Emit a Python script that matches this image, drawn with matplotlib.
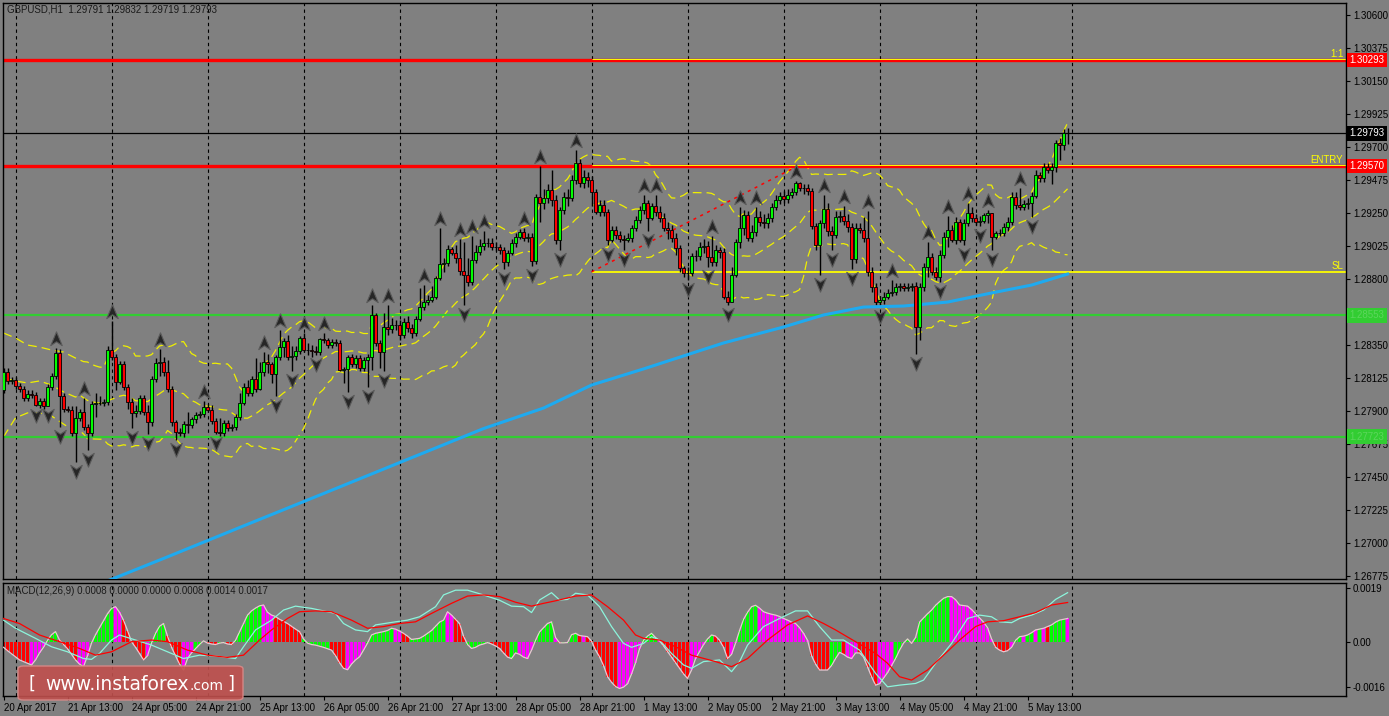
import matplotlib
matplotlib.use("Agg")
import matplotlib.pyplot as plt
import matplotlib.transforms as mtransforms
from matplotlib.path import Path
from matplotlib.patches import FancyBboxPatch
import pandas as pd

# GBPUSD H1, bar 0 = 20 Apr 2017 21:00, last bar = 5 May 2017 ~23:00
first_open = 1.28042

closes = [
    1.28165, 1.28104, 1.28110, 1.28069, 1.28049, 1.27988, 1.28015, 1.28008, 1.27940, 1.27967,
    1.27933, 1.28063, 1.28138, 1.28295, 1.28001, 1.27913, 1.27906, 1.27749, 1.27851, 1.27892,
    1.27790, 1.27749, 1.27947, 1.27954, 1.27954, 1.27961, 1.28315, 1.28267, 1.28097, 1.28220,
    1.28063, 1.27961, 1.27885, 1.27899, 1.27988, 1.27892, 1.27824, 1.28117, 1.28226, 1.28233,
    1.28165, 1.28049, 1.27824, 1.27756, 1.27749, 1.27810, 1.27803, 1.27844, 1.27872, 1.27879,
    1.27926, 1.27906, 1.27831, 1.27756, 1.27749, 1.27817, 1.27783, 1.27790, 1.27858, 1.27954,
    1.28063, 1.28022, 1.28117, 1.28049, 1.28165, 1.28233, 1.28220, 1.28151, 1.28267, 1.28335,
    1.28376, 1.28267, 1.28274, 1.28308, 1.28397, 1.28315, 1.28313, 1.28308, 1.28301, 1.28390,
    1.28383, 1.28349, 1.28370, 1.28363, 1.28179, 1.28186, 1.28267, 1.28220, 1.28260, 1.28192,
    1.28247, 1.28267, 1.28554, 1.28363, 1.28301, 1.28472, 1.28458, 1.28486, 1.28484, 1.28417,
    1.28506, 1.28465, 1.28431, 1.28526, 1.28608, 1.28642, 1.28656, 1.28676, 1.28806, 1.28902,
    1.28909, 1.29004, 1.28977, 1.28943, 1.28854, 1.28827, 1.28779, 1.28929, 1.28983, 1.29024,
    1.29045, 1.29043, 1.29017, 1.29019, 1.28997, 1.28915, 1.28977, 1.29045, 1.29088, 1.29120,
    1.29079, 1.29086, 1.28922, 1.29358, 1.29317, 1.29352, 1.29406, 1.29338, 1.29065, 1.29270,
    1.29358, 1.29352, 1.29474, 1.29590, 1.29454, 1.29495, 1.29474, 1.29393, 1.29256, 1.29304,
    1.29256, 1.29065, 1.29133, 1.29099, 1.29072, 1.29065, 1.29079, 1.29147, 1.29202, 1.29270,
    1.29317, 1.29215, 1.29297, 1.29256, 1.29215, 1.29147, 1.29133, 1.29079, 1.29011, 1.28874,
    1.28840, 1.28838, 1.28956, 1.28954, 1.29017, 1.29024, 1.28949, 1.28915, 1.28997, 1.28983,
    1.28676, 1.28642, 1.28827, 1.29052, 1.29147, 1.29236, 1.29079, 1.29120, 1.29222, 1.29188,
    1.29181, 1.29215, 1.29290, 1.29338, 1.29365, 1.29345, 1.29372, 1.29393, 1.29454, 1.29420,
    1.29418, 1.29399, 1.29161, 1.29031, 1.29181, 1.29277, 1.29127, 1.29099, 1.29222, 1.29229,
    1.29195, 1.29154, 1.28936, 1.29147, 1.29133, 1.29079, 1.28847, 1.28745, 1.28642, 1.28656,
    1.28676, 1.28704, 1.28711, 1.28745, 1.28752, 1.28738, 1.28745, 1.28750, 1.28472, 1.28745,
    1.28881, 1.28949, 1.28847, 1.28813, 1.28963, 1.29086, 1.29133, 1.29065, 1.29188, 1.29065,
    1.29181, 1.29249, 1.29215, 1.29188, 1.29195, 1.29236, 1.29249, 1.29086, 1.29113, 1.29111,
    1.29154, 1.29188, 1.29358, 1.29304, 1.29290, 1.29311, 1.29317, 1.29365, 1.29509, 1.29488,
    1.29563, 1.29543, 1.29561, 1.29727, 1.29713, 1.29795, 1.29793]

highs = [
    1.2819, 1.2819, 1.2813, 1.2813, 1.2809, 1.2807, 1.2804, 1.2804, 1.2803, 1.2799,
    1.2799, 1.2808, 1.2816, 1.2833, 1.2832, 1.2802, 1.2793, 1.2793, 1.2793, 1.2791,
    1.2799, 1.2781, 1.2797, 1.2802, 1.2800, 1.2798, 1.2834, 1.2851, 1.2829, 1.2824,
    1.2824, 1.2808, 1.2799, 1.2794, 1.2801, 1.2801, 1.2794, 1.2814, 1.2826, 1.2832,
    1.2827, 1.2825, 1.2807, 1.2784, 1.2778, 1.2783, 1.2789, 1.2786, 1.2789, 1.2790,
    1.2797, 1.2795, 1.2794, 1.2785, 1.2785, 1.2784, 1.2784, 1.2781, 1.2788, 1.2802,
    1.2809, 1.2811, 1.2814, 1.2826, 1.2823, 1.2830, 1.2829, 1.2823, 1.2828, 1.2845,
    1.2840, 1.2842, 1.2834, 1.2834, 1.2841, 1.2843, 1.2836, 1.2835, 1.2834, 1.2840,
    1.2843, 1.2840, 1.2839, 1.2839, 1.2838, 1.2820, 1.2828, 1.2829, 1.2828, 1.2828,
    1.2827, 1.2829, 1.2862, 1.2857, 1.2838, 1.2857, 1.2862, 1.2853, 1.2852, 1.2852,
    1.2853, 1.2855, 1.2849, 1.2855, 1.2874, 1.2876, 1.2869, 1.2875, 1.2882, 1.2915,
    1.2894, 1.2903, 1.2902, 1.2903, 1.2907, 1.2905, 1.2894, 1.2909, 1.2903, 1.2907,
    1.2913, 1.2908, 1.2908, 1.2905, 1.2904, 1.2902, 1.2900, 1.2907, 1.2911, 1.2914,
    1.2915, 1.2911, 1.2911, 1.2938, 1.2957, 1.2941, 1.2945, 1.2954, 1.2937, 1.2929,
    1.2939, 1.2941, 1.2951, 1.2968, 1.2962, 1.2954, 1.2953, 1.2950, 1.2941, 1.2934,
    1.2934, 1.2928, 1.2916, 1.2916, 1.2913, 1.2910, 1.2911, 1.2917, 1.2923, 1.2930,
    1.2937, 1.2934, 1.2932, 1.2937, 1.2930, 1.2925, 1.2919, 1.2917, 1.2911, 1.2903,
    1.2889, 1.2888, 1.2898, 1.2900, 1.2905, 1.2907, 1.2906, 1.2909, 1.2903, 1.2902,
    1.2901, 1.2872, 1.2888, 1.2907, 1.2929, 1.2927, 1.2926, 1.2917, 1.2929, 1.2926,
    1.2924, 1.2925, 1.2932, 1.2937, 1.2939, 1.2940, 1.2941, 1.2942, 1.2947, 1.2946,
    1.2945, 1.2945, 1.2942, 1.2918, 1.2920, 1.2937, 1.2932, 1.2916, 1.2926, 1.2926,
    1.2930, 1.2924, 1.2918, 1.2918, 1.2918, 1.2922, 1.2926, 1.2888, 1.2877, 1.2868,
    1.2871, 1.2873, 1.2879, 1.2877, 1.2877, 1.2877, 1.2877, 1.2877, 1.2878, 1.2877,
    1.2891, 1.2905, 1.2898, 1.2888, 1.2900, 1.2912, 1.2923, 1.2917, 1.2922, 1.2921,
    1.2921, 1.2932, 1.2929, 1.2924, 1.2923, 1.2925, 1.2927, 1.2925, 1.2913, 1.2914,
    1.2918, 1.2922, 1.2939, 1.2939, 1.2942, 1.2934, 1.2935, 1.2939, 1.2954, 1.2953,
    1.2959, 1.2959, 1.2959, 1.2975, 1.2976, 1.2982, 1.29832]

lows = [
    1.2802, 1.2808, 1.2808, 1.2805, 1.2803, 1.2797, 1.2797, 1.2799, 1.2793, 1.2792,
    1.2791, 1.2793, 1.2804, 1.2812, 1.2779, 1.2789, 1.2789, 1.2773, 1.2755, 1.2783,
    1.2777, 1.2763, 1.2773, 1.2786, 1.2794, 1.2793, 1.2794, 1.2825, 1.2804, 1.2808,
    1.2804, 1.2791, 1.2778, 1.2786, 1.2788, 1.2787, 1.2774, 1.2780, 1.2810, 1.2814,
    1.2814, 1.2803, 1.2780, 1.2770, 1.2773, 1.2772, 1.2775, 1.2778, 1.2782, 1.2785,
    1.2786, 1.2789, 1.2781, 1.2774, 1.2773, 1.2773, 1.2776, 1.2776, 1.2777, 1.2784,
    1.2794, 1.2800, 1.2800, 1.2803, 1.2804, 1.2814, 1.2816, 1.2809, 1.2800, 1.2825,
    1.2827, 1.2825, 1.2817, 1.2825, 1.2829, 1.2830, 1.2828, 1.2827, 1.2828, 1.2828,
    1.2836, 1.2833, 1.2833, 1.2834, 1.2817, 1.2809, 1.2803, 1.2820, 1.2819, 1.2817,
    1.2817, 1.2806, 1.2818, 1.2834, 1.2819, 1.2817, 1.2842, 1.2843, 1.2845, 1.2838,
    1.2840, 1.2844, 1.2840, 1.2841, 1.2851, 1.2859, 1.2862, 1.2864, 1.2866, 1.2879,
    1.2885, 1.2889, 1.2896, 1.2891, 1.2883, 1.2862, 1.2875, 1.2876, 1.2891, 1.2896,
    1.2900, 1.2902, 1.2900, 1.2899, 1.2897, 1.2887, 1.2889, 1.2896, 1.2902, 1.2907,
    1.2906, 1.2905, 1.2889, 1.2890, 1.2919, 1.2928, 1.2932, 1.2930, 1.2904, 1.2900,
    1.2924, 1.2930, 1.2933, 1.2945, 1.2943, 1.2942, 1.2943, 1.2930, 1.2924, 1.2923,
    1.2923, 1.2903, 1.2905, 1.2907, 1.2905, 1.2900, 1.2905, 1.2905, 1.2913, 1.2918,
    1.2924, 1.2913, 1.2920, 1.2923, 1.2919, 1.2913, 1.2907, 1.2905, 1.2896, 1.2885,
    1.2881, 1.2879, 1.2882, 1.2892, 1.2893, 1.2898, 1.2888, 1.2889, 1.2889, 1.2894,
    1.2866, 1.2862, 1.2864, 1.2881, 1.2901, 1.2910, 1.2906, 1.2905, 1.2909, 1.2916,
    1.2915, 1.2915, 1.2919, 1.2927, 1.2931, 1.2932, 1.2932, 1.2935, 1.2937, 1.2940,
    1.2938, 1.2937, 1.2914, 1.2900, 1.2883, 1.2915, 1.2909, 1.2900, 1.2908, 1.2919,
    1.2917, 1.2912, 1.2887, 1.2891, 1.2911, 1.2905, 1.2882, 1.2871, 1.2862, 1.2861,
    1.2863, 1.2866, 1.2868, 1.2869, 1.2872, 1.2872, 1.2872, 1.2872, 1.2829, 1.2838,
    1.2872, 1.2881, 1.2883, 1.2879, 1.2878, 1.2894, 1.2902, 1.2905, 1.2904, 1.2905,
    1.2903, 1.2916, 1.2919, 1.2917, 1.2916, 1.2918, 1.2918, 1.2900, 1.2907, 1.2909,
    1.2909, 1.2913, 1.2917, 1.2928, 1.2927, 1.2927, 1.2928, 1.2922, 1.2935, 1.2946,
    1.2946, 1.2952, 1.2945, 1.2953, 1.2961, 1.2968, 1.29719]

# Bill Williams fractals seen on the chart
up_fractals = [13, 20, 27, 39, 50, 65, 69, 75, 80, 92, 96, 105, 109, 114, 117, 120,
               130, 134, 143, 160, 163, 177, 184, 188, 198, 205, 210, 216, 222, 231,
               236, 241, 246, 254]
down_fractals = [8, 11, 14, 18, 21, 32, 36, 43, 53, 68, 72, 78, 86, 91, 95, 115, 125,
                 132, 139, 151, 155, 161, 171, 176, 181, 204, 207, 212, 219, 228, 234,
                 240, 244, 247, 257]

# Bollinger bands (20,2) for the first bars (history before the window)
band_head_bars = [0, 3, 6, 9, 12, 15, 18]
band_head_upper = [1.28431, 1.28397, 1.28349, 1.28335, 1.28315, 1.28301, 1.28260]
band_head_mid = [1.28124, 1.28104, 1.28090, 1.28104, 1.28076, 1.28029, 1.27994]
band_head_lower = [1.27722, 1.27852, 1.27886, 1.27886, 1.27865, 1.27810, 1.27756]

# long moving average (blue)
ma_bars = [26, 40, 60, 80, 100, 120, 135, 147, 160, 180, 195, 205, 215, 225, 236, 247, 257, 266]
ma_values = [1.26740, 1.26893, 1.27115, 1.27336, 1.27558, 1.27779, 1.27919, 1.28076, 1.28186,
             1.28363, 1.28472, 1.28554, 1.28608, 1.28615, 1.28642, 1.28704, 1.28758, 1.28833]

# trade levels
level_tp = 1.30293
level_entry = 1.29570
level_sl = 1.28848
level_bid = 1.29793
level_green = [1.28553, 1.27723]
trade_start = 147
trend_bars = [147, 198]
trend_prices = [1.28848, 1.29563]

# MACD panel (values in units of 1e-4)
hist_e4 = [
    -2.0, -3.2, -4.3, -5.4, -6.5, -7.1, -7.7, -8.3, -6.5, -4.0,
    -2.0, 0.5, 2.5, 3.6, 0.6, -1.0, -2.5, -4.5, -6.5, -8.0,
    -8.9, -5.0, -0.5, 2.5, 5.0, 7.5, 10.0, 11.9, 12.5, 10.5,
    7.7, 4.0, 0.0, -2.0, -4.2, -6.5, -5.0, -0.5, 3.0, 5.5,
    6.5, 2.0, -2.0, -5.0, -8.0, -10.1, -6.0, -4.0, -2.5, -1.0,
    0.3, -0.5, -0.8, -1.0, -0.5, -0.3, -0.8, -1.0, 0.5, 3.5,
    6.5, 9.5, 11.0, 12.0, 12.8, 13.1, 10.5, 9.5, 9.0, 8.0,
    7.3, 6.5, 5.5, 4.5, 3.6, 1.0, -0.5, -1.0, -1.2, -1.6,
    -2.0, -2.5, -3.0, -5.0, -7.5, -9.5, -10.0, -8.0, -6.5, -5.4,
    -3.0, -0.5, 2.4, 3.0, 3.3, 3.6, 4.0, 4.8, 4.5, 3.8,
    3.0, 2.0, 0.8, 1.0, 1.2, 2.0, 3.0, 4.0, 5.5, 7.0,
    7.7, 10.7, 9.5, 8.0, 6.5, 2.0, -1.0, -2.4, -2.0, -1.2,
    -0.8, -0.3, -0.8, -1.5, -2.4, -4.0, -5.5, -6.0, -4.0, -4.5,
    -5.5, -6.0, -3.0, 0.5, 3.5, 5.0, 6.5, 7.1, 1.5, -0.4,
    -0.4, -0.3, 2.5, 3.0, 2.2, 2.0, 1.8, 0.2, -3.0, -5.4,
    -8.5, -12.5, -14.5, -16.0, -16.7, -16.2, -15.0, -11.5, -7.5, -2.5,
    0.5, 2.0, 3.0, 1.5, 0.3, -1.5, -3.5, -5.5, -7.5, -9.5,
    -11.5, -13.1, -10.1, -6.0, -3.5, -1.0, 1.0, 2.4, 2.0, 0.5,
    -2.0, -6.0, -4.5, -0.5, 4.0, 8.0, 10.5, 12.5, 13.0, 12.0,
    10.7, 10.2, 9.8, 9.5, 9.0, 8.3, 7.7, 7.0, 6.5, 5.0,
    3.0, 0.5, -5.0, -8.0, -10.1, -10.1, -10.1, -8.5, -6.0, -3.8,
    -4.5, -5.5, -6.0, -4.0, -4.0, -5.5, -9.0, -12.5, -15.5, -15.0,
    -13.0, -11.0, -8.5, -6.0, -3.0, -0.5, 1.0, -0.6, 1.5, 7.0,
    8.5, 10.0, 11.3, 13.0, 14.3, 15.5, 16.1, 16.1, 15.0, 13.1,
    12.9, 12.7, 11.5, 10.0, 8.5, 7.0, 5.0, 1.0, -2.0, -3.0,
    -3.6, -3.2, -2.0, 0.5, 1.8, 2.0, 2.4, 3.2, 4.2, 4.5,
    4.8, 5.4, 6.0, 7.0, 7.7, 8.0, 8.3]

# histogram colour runs: G = lime, R = red, M = magenta
hist_color_runs = [
    ("R", 7), ("M", 4), ("G", 3), ("R", 5), ("M", 3), ("G", 6), ("M", 2), ("R", 2),
    ("G", 1), ("R", 3), ("M", 1), ("G", 4), ("R", 4), ("M", 3), ("G", 3), ("R", 3),
    ("G", 2), ("R", 2), ("G", 7), ("M", 3), ("R", 7), ("G", 7), ("R", 4), ("M", 5),
    ("G", 7), ("M", 2), ("R", 2), ("G", 9), ("M", 2), ("R", 3), ("G", 6), ("R", 5),
    ("G", 2), ("M", 4), ("G", 5), ("M", 1), ("R", 1), ("G", 4), ("R", 1), ("M", 1),
    ("R", 8), ("M", 6), ("G", 4), ("M", 1), ("R", 7), ("M", 4), ("G", 2), ("R", 4),
    ("M", 2), ("G", 5), ("M", 13), ("R", 5), ("G", 3), ("R", 1), ("M", 3), ("R", 5),
    ("M", 4), ("G", 4), ("R", 1), ("G", 9), ("M", 11), ("R", 4), ("M", 1), ("G", 2),
    ("M", 1), ("G", 2), ("M", 1), ("G", 1), ("M", 1), ("R", 1), ("G", 4), ("M", 1)]

macd_bars = [0, 3, 8, 12, 16, 20, 22, 24, 27, 29, 33, 37, 41, 45, 49, 53, 58, 60, 63, 67,
             70, 73, 77, 81, 83, 85, 88, 91, 93, 98, 101, 104, 108, 110, 113, 116, 120, 124,
             127, 130, 132, 134, 137, 139, 141, 143, 146, 149, 152, 155, 157, 160, 162, 164,
             167, 170, 172, 175, 179, 182, 184, 186, 190, 194, 198, 201, 204, 207, 210, 214,
             218, 221, 224, 228, 230, 233, 237, 241, 244, 247, 249, 252, 254, 257, 260, 263, 266]
macd_e4 = [7.7, 4.8, 1.2, -1.8, -3.6, -6.0, -6.3, -4.2, 0.6, 2.4, 0.6, -1.2, -3.6, -6.0, -4.8,
           -5.1, -6.0, -1.8, 4.2, 7.7, 11.3, 12.7, 11.9, 10.7, 10.1, 6.5, 4.2, 3.6, 6.0, 7.1,
           7.7, 8.9, 12.5, 16.7, 18.4, 18.4, 16.7, 14.8, 12.7, 12.5, 10.4, 14.9, 17.5, 14.9,
           15.1, 17.3, 16.7, 12.5, 5.4, -0.6, -2.0, -0.6, 1.8, 0.6, -4.2, -8.3, -9.5, -7.1,
           -6.5, -10.7, -7.1, -1.2, 5.4, 8.3, 11.0, 11.0, 5.4, 0.6, 0.6, -3.0, -11.3, -16.1,
           -15.5, -14.9, -13.7, -7.7, -0.6, 8.3, 9.5, 8.9, 7.1, 6.8, 8.3, 9.5, 11.3, 15.1, 17.5]

signal_bars = [0, 4, 9, 14, 19, 23, 27, 32, 37, 41, 46, 51, 56, 60, 64, 67, 71, 74, 78, 82,
               87, 91, 95, 99, 103, 107, 112, 116, 120, 124, 128, 132, 135, 138, 143, 147, 151,
               155, 158, 160, 164, 168, 172, 178, 182, 186, 191, 196, 201, 205, 208, 213, 218,
               221, 224, 227, 231, 235, 239, 243, 246, 250, 254, 258, 262, 266]
signal_e4 = [8.3, 6.5, 2.4, 0.0, -2.4, -4.8, -3.6, 0.0, 0.6, 0.0, -3.0, -4.8, -5.6, -4.8, 0.6,
             4.2, 8.3, 10.7, 11.0, 10.7, 7.7, 4.8, 5.4, 6.5, 7.1, 10.1, 13.7, 16.3, 16.7, 16.1,
             14.1, 12.7, 13.7, 14.6, 16.3, 16.7, 12.5, 7.7, 2.4, 1.2, 0.6, -1.8, -4.8, -7.1,
             -8.9, -6.0, 0.6, 6.0, 9.2, 6.5, 4.2, 0.0, -4.2, -7.7, -12.5, -13.7, -10.1, -4.8,
             0.6, 5.4, 7.1, 7.5, 8.9, 10.4, 13.1, 14.0]

time_labels = ["20 Apr 2017", "21 Apr 13:00", "24 Apr 05:00", "24 Apr 21:00", "25 Apr 13:00",
               "26 Apr 05:00", "26 Apr 21:00", "27 Apr 13:00", "28 Apr 05:00", "28 Apr 21:00",
               "1 May 13:00", "2 May 05:00", "2 May 21:00", "3 May 13:00", "4 May 05:00",
               "4 May 21:00", "5 May 13:00"]
time_label_bars = [16 * k for k in range(len(time_labels))]
day_grid_bars = [3 + 24 * k for k in range(12)]

price_ticks = [1.26775 + 0.00225 * k for k in range(18)]

BG = "#808080"
W, H = 1389, 716

plt.rcParams["font.family"] = ["Liberation Sans", "DejaVu Sans"]

fig = plt.figure(figsize=(W / 100, H / 100), dpi=100, facecolor=BG)


def fig_rect(left, top, right, bottom):
    return [left / W, 1 - bottom / H, (right - left) / W, (bottom - top) / H]


ax = fig.add_axes(fig_rect(3, 3, 1346, 579), facecolor=BG)
axm = fig.add_axes(fig_rect(3, 583, 1346, 696), facecolor=BG, sharex=ax)

n = len(closes)
xs = list(range(n))
opens = [first_open] + closes[:-1]

# --- candles
ax.vlines(xs, lows, highs, color="black", linewidth=1, zorder=3)
body_bottom, body_height, body_color = [], [], []
for o, c in zip(opens, closes):
    body_bottom.append(min(o, c))
    body_height.append(max(abs(c - o), 0.00002))
    body_color.append("#00ff00" if c > o else "#ff0000")
ax.bar(xs, body_height, bottom=body_bottom, width=0.62, color=body_color,
       edgecolor="black", linewidth=0.6, zorder=4)

# --- Bollinger bands
cs = pd.Series(closes)
mid = cs.rolling(20).mean()
sd = cs.rolling(20).std(ddof=0)
bx = band_head_bars + xs[19:]
band_style = dict(color="#f0f000", linewidth=0.9, linestyle=(0, (7, 4)), zorder=2)
ax.plot(bx, band_head_upper + list((mid + 2 * sd)[19:]), **band_style)
ax.plot(bx, band_head_mid + list(mid[19:]), **band_style)
ax.plot(bx, band_head_lower + list((mid - 2 * sd)[19:]), **band_style)

# --- moving average
ax.plot(ma_bars, ma_values, color="#1eaaf0", linewidth=2.2, zorder=3)

# --- levels
ax.axhline(level_tp, color="#ff0000", linewidth=2.4, zorder=2)
ax.axhline(level_entry, color="#ff0000", linewidth=2.4, zorder=2)
up1 = mtransforms.offset_copy(ax.transData, fig=fig, x=0, y=1, units="dots")
ax.hlines([level_tp, level_entry], trade_start, 400, color="#ffff00", linewidth=0.7,
          transform=up1, zorder=2)
ax.hlines(level_sl, trade_start, 400, color="#ffff00", linewidth=1.3, zorder=2)
ax.plot(trend_bars, trend_prices, color="#ff0000", linewidth=1.1, linestyle=(0, (2, 3)), zorder=2)
for g in level_green:
    ax.axhline(g, color="#32cd32", linewidth=1.6, zorder=2)
ax.axhline(level_bid, color="black", linewidth=0.9, zorder=2)

lbl = dict(transform=ax.get_yaxis_transform(), ha="right", va="bottom",
           color="#ffff00", fontsize=7)
ax.text(0.998, level_tp + 0.00004, "1:1", **lbl)
ax.text(0.998, level_entry + 0.00004, "ENTRY", **lbl)
ax.text(0.998, level_sl + 0.00004, "SL", **lbl)

# --- fractal arrows
up_marker = Path([(0, 1), (0.75, -0.8), (0, -0.3), (-0.75, -0.8), (0, 1)],
                 [Path.MOVETO, Path.LINETO, Path.LINETO, Path.LINETO, Path.CLOSEPOLY])
down_marker = Path([(0, -1), (0.75, 0.8), (0, 0.3), (-0.75, 0.8), (0, -1)],
                   [Path.MOVETO, Path.LINETO, Path.LINETO, Path.LINETO, Path.CLOSEPOLY])
up_tr = mtransforms.offset_copy(ax.transData, fig=fig, x=0, y=9, units="dots")
dn_tr = mtransforms.offset_copy(ax.transData, fig=fig, x=0, y=-9, units="dots")
ax.plot(up_fractals, [highs[i] for i in up_fractals], linestyle="none", marker=up_marker,
        markersize=11, markerfacecolor="#262626", markeredgecolor="#5a5a5a",
        markeredgewidth=0.8, transform=up_tr, zorder=5)
ax.plot(down_fractals, [lows[i] for i in down_fractals], linestyle="none", marker=down_marker,
        markersize=11, markerfacecolor="#262626", markeredgecolor="#5a5a5a",
        markeredgewidth=0.8, transform=dn_tr, zorder=5)

# --- price axis
ax.set_xlim(-0.125, 335.6)
ax.set_ylim(1.26753, 1.30682)
ax.yaxis.tick_right()
ax.set_yticks(price_ticks)
# 1.28575 sits under the green 1.28553 tag, as on the terminal
ax.set_yticklabels(["" if abs(p - 1.28575) < 1e-6 else "%.5f" % p for p in price_ticks])
ax.tick_params(axis="y", labelsize=7, length=3, pad=2, colors="black")
ax.tick_params(axis="x", bottom=False, labelbottom=False)

tag = dict(transform=ax.get_yaxis_transform(), ha="left", va="center", fontsize=7,
           clip_on=False, zorder=10)
ax.text(1.0025, level_tp, "1.30293", color="white",
        bbox=dict(boxstyle="square,pad=0.25", fc="#ff0000", ec="none"), **tag)
ax.text(1.0025, level_entry, "1.29570", color="white",
        bbox=dict(boxstyle="square,pad=0.25", fc="#ff0000", ec="none"), **tag)
ax.text(1.0025, level_bid, "1.29793", color="white",
        bbox=dict(boxstyle="square,pad=0.25", fc="black", ec="none"), **tag)
for g in level_green:
    ax.text(1.0025, g, "%.5f" % g, color="#5cd65c",
            bbox=dict(boxstyle="square,pad=0.25", fc="#32cd32", ec="none"), **tag)

# --- MACD panel
hist = [v * 1e-4 for v in hist_e4]
cmap = {"G": "#00ff00", "R": "#ff0000", "M": "#ff00ff"}
hist_colors = []
for code, count in hist_color_runs:
    hist_colors += [cmap[code]] * count
hist_colors = (hist_colors + [cmap["G"]] * n)[:n]
axm.bar(xs, hist, width=0.75, color=hist_colors, linewidth=0, zorder=2)
axm.plot(xs, hist, color="#e8c8d2", linewidth=0.9, zorder=3)
axm.plot(macd_bars, [v * 1e-4 for v in macd_e4], color="#8cf5dc", linewidth=0.9, zorder=4)
axm.plot(signal_bars, [v * 1e-4 for v in signal_e4], color="#ff0000", linewidth=0.9, zorder=4)
axm.set_ylim(-0.001938, 0.002096)
axm.yaxis.tick_right()
axm.set_yticks([0.0019, 0.0, -0.0016])
axm.set_yticklabels(["0.0019", "0.00", "-0.0016"])
axm.tick_params(axis="y", labelsize=7, length=3, pad=2, colors="black")
axm.set_xticks(time_label_bars)
axm.set_xticklabels(time_labels, ha="left")
axm.tick_params(axis="x", labelsize=7, length=3, pad=2, colors="black")

# vertical day separators
for a in (ax, axm):
    for b in day_grid_bars:
        a.axvline(b, color="black", linewidth=0.8, linestyle=(0, (3, 3)), zorder=1)
    for s in a.spines.values():
        s.set_color("black")
        s.set_linewidth(1)

fig.text(7 / W, 1 - 10 / H, "GBPUSD,H1  1.29791 1.29832 1.29719 1.29793", fontsize=7,
         color="#1a1a1a", va="center", ha="left")
fig.text(7 / W, 1 - 591 / H, "MACD(12,26,9) 0.0008 0.0000 0.0000 0.0008 0.0014 0.0017",
         fontsize=7, color="#1a1a1a", va="center", ha="left")

# watermark
fig.patches.append(FancyBboxPatch((18 / W, 1 - 700 / H), 225 / W, 34 / H,
                                  boxstyle="round,pad=0,rounding_size=0.004",
                                  transform=fig.transFigure, fc="#c0504d", ec="#d98a88",
                                  linewidth=1, alpha=0.9, zorder=20))
wm = dict(color="white", va="center", ha="left", family="DejaVu Sans", zorder=21)
fig.text(29 / W, 1 - 684 / H, "[", fontsize=13, **wm)
site = fig.text(45 / W, 1 - 684 / H, "www.instaforex", fontsize=13.5, **wm)
renderer = fig.canvas.get_renderer()
site_right = site.get_window_extent(renderer).x1
com = fig.text((site_right + 1) / W, 1 - 686 / H, ".com", fontsize=10, **wm)
com_right = com.get_window_extent(renderer).x1
fig.text((com_right + 4) / W, 1 - 684 / H, "]", fontsize=13, **wm)

fig.savefig("out.png", dpi=100, facecolor=BG)
